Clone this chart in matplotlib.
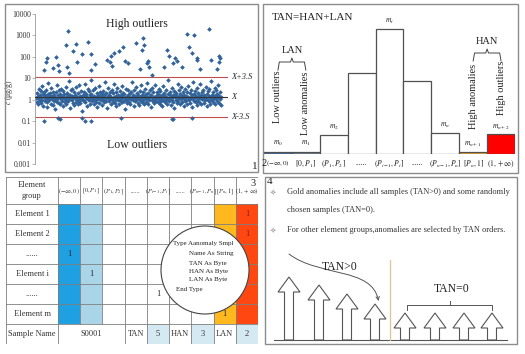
import matplotlib

matplotlib.use("Agg")
import matplotlib.pyplot as plt
import numpy as np
from matplotlib.patches import Rectangle, Circle, FancyArrow, FancyArrowPatch
from matplotlib.path import Path

plt.rcParams["font.family"] = ["Liberation Serif", "DejaVu Sans"]
plt.rcParams["mathtext.fontset"] = "stix"

W, H = 525, 354
INK = "#222222"
FRAME = "#8c8c8c"

# ---------------- panel 1: concentrations by sample ----------------
band = [
    1.2, 0.8, 2.1, 1.5, 0.6, 3.2, 1.1, 0.9, 1.7, 2.6, 0.7, 1.3, 4.5, 1.0, 0.5, 1.9, 1.4, 2.3, 0.85, 1.6,
    1.1, 2.8, 0.75, 1.35, 0.45, 1.8, 6.2, 1.25, 0.95, 2.0, 1.55, 0.65, 3.6, 1.05, 1.45, 0.55, 2.4, 1.15, 0.9, 1.7,
    0.35, 1.3, 2.2, 1.0, 0.8, 5.1, 1.6, 1.2, 0.7, 2.9, 1.4, 0.6, 1.85, 1.05, 3.3, 0.9, 1.5, 0.5, 2.5, 1.25,
    1.9, 0.75, 1.1, 4.0, 1.35, 0.65, 2.15, 1.0, 0.85, 1.6, 7.5, 1.2, 0.4, 1.75, 2.7, 1.05, 0.95, 1.45, 3.0, 0.7,
    1.3, 2.35, 0.55, 1.15, 1.65, 0.8, 3.8, 1.4, 1.0, 2.05, 0.6, 1.25, 0.9, 4.8, 1.55, 0.7, 1.1, 2.6, 1.35, 0.3,
    1.7, 1.0, 0.85, 2.2, 1.45, 5.6, 0.75, 1.2, 1.9, 0.5, 1.3, 3.1, 1.05, 0.95, 2.45, 1.6, 0.65, 1.15, 1.8, 8.5,
    0.9, 1.4, 2.75, 1.1, 0.6, 1.55, 1.0, 3.5, 0.8, 1.25, 2.0, 0.45, 1.35, 1.75, 1.05, 4.2, 0.7, 1.5, 2.3, 1.2,
    0.95, 1.85, 0.55, 1.3, 2.6, 1.0, 0.75, 1.65, 6.8, 1.15, 0.85, 2.1, 1.4, 0.4, 1.2, 3.4, 1.6, 0.9, 1.05, 2.4,
    1.5, 0.65, 1.25, 2.9, 1.1, 0.8, 1.95, 5.3, 1.35, 0.7, 1.0, 2.25, 1.45, 0.5, 3.7, 1.2, 0.95, 1.7, 1.05, 0.6,
    2.5, 1.3, 0.85, 1.6, 4.4, 1.15, 0.75, 2.0, 1.4, 0.9, 1.8, 0.35, 1.25, 3.2, 1.0, 1.55, 0.7, 2.7, 1.1, 1.45,
    0.8, 1.9, 1.2, 0.6, 2.3, 1.05, 7.0, 1.35, 0.95, 1.65, 0.5, 2.8, 1.15, 1.5, 0.85, 3.9, 1.0, 1.3, 2.1, 0.7,
    1.75, 1.1, 0.55, 2.55, 1.4, 0.9, 1.2, 4.7, 0.75, 1.6, 1.0, 2.2, 0.65, 1.45, 3.3, 1.25, 0.8, 1.85, 1.05, 6.0,
    1.3, 0.6, 2.0, 1.15, 0.95, 2.9, 1.5, 0.45, 1.7, 1.0, 3.6, 1.25, 0.85, 2.4, 1.4, 0.7, 5.0, 1.1, 1.55, 0.9,
    2.2, 1.35, 0.75, 1.8, 1.05, 3.1, 0.6, 1.45, 2.65, 1.2, 0.9, 1.65, 0.5, 4.3, 1.0, 1.3, 2.05, 0.8, 1.5, 1.15,
    0.95, 2.75, 1.25, 0.65, 1.9, 8.0, 1.1, 0.85, 1.6, 2.3, 0.55, 1.4, 1.0, 3.4, 1.2, 0.75, 1.75, 2.5, 0.4, 1.35,
    1.6, 1.0, 2.1, 0.7, 1.45, 5.5, 1.2, 0.9, 2.85, 1.3, 0.6, 1.85, 1.05, 3.8, 0.8, 1.5, 2.2, 1.15, 0.5, 1.7,
    1.25, 3.0, 0.85, 1.55, 1.0, 2.4, 0.65, 1.35, 4.6, 1.1, 0.95, 1.95, 0.7, 1.4, 2.7, 1.2, 0.45, 1.65, 6.5, 1.05,
    0.9, 1.8, 1.3, 2.6, 0.75, 1.5, 1.0, 3.5, 0.55, 1.25, 2.0, 1.45, 0.8, 5.2, 1.15, 1.7, 0.6, 2.35, 1.05, 1.4,
    2.9, 1.1, 0.7, 1.6, 1.35, 0.95, 4.1, 1.2, 0.5, 1.9, 2.5, 1.0, 0.85, 1.55, 3.3, 1.3, 0.65, 7.8, 1.15, 1.75,
    1.0, 2.2, 0.8, 1.45, 1.2, 3.7, 0.6, 1.6, 2.75, 1.05, 0.9, 1.85, 4.9, 1.3, 0.7, 1.5, 2.4, 1.1, 0.55, 1.35,
]
high_no = [18, 21, 25, 36, 43, 48, 49, 65, 67, 70, 72, 81, 87, 88, 99, 113, 119, 120, 127,
           153, 160, 163, 164, 168, 180, 189, 193, 199, 216, 225, 229, 232, 233, 240, 243,
           245, 251, 276, 283, 287, 297, 301, 305, 316, 327, 330, 337, 341, 348, 349, 355,
           375, 379, 391, 395, 396, 397]
high_val = [25, 60, 90, 30, 100, 40, 22, 350, 35, 1600, 18, 180, 400, 60, 140, 500, 140, 25, 45,
            75, 60, 110, 38, 150, 190, 300, 65, 50, 460, 28, 220, 800, 350, 50, 65,
            33, 14, 35, 220, 110, 50, 90, 65, 33, 1200, 300, 150, 1100, 90, 70, 28,
            1900, 75, 28, 110, 60, 90]
low_no = [18, 48, 51, 99, 106, 120, 183, 293, 296, 337]
low_val = [0.1, 0.14, 0.13, 0.14, 0.1, 0.1, 0.14, 0.13, 0.12, 0.14]
mean_c, upper_c, lower_c = 1.3, 11.5, 0.15
decades = [0.001, 0.01, 0.1, 1, 10, 100, 1000, 10000]
decade_labels = ["0.001", "0.01", "0.1", "1", "10", "100", "1000", "10000"]

# ---------------- panel 2: interval histogram ----------------
intervals = [r"$(-\infty,0)$", r"$[0,P_1]$", r"$(P_1,P_2]$", "......", r"$(P_{i-1},P_i]$",
             "......", r"$(P_{n-1},P_n]$", r"$[P_n,1]$", r"$(1,+\infty)$"]
counts = [2.5, 2.5, 19, 81, 125, 73, 21, 2.5, 20]
count_labels = [r"$m_0$", r"$m_1$", r"$m_2$", "", r"$m_i$", "", r"$m_n$", r"$m_{n+1}$", r"$m_{n+2}$"]
bar_colors = ["#3f6e9c", "#6d8296", "white", "white", "white", "white", "white", "#eaa928", "#ff0000"]

# ---------------- panel 3: record table ----------------
head_labels = [r"$(-\infty,0)$", r"$[0,P_1]$", r"$(P_1,P_2]$", "......", r"$(P_{i-1},P_i]$",
               "......", r"$(P_{n-1},P_n]$", r"$[P_n,1]$", r"$(1,+\infty)$"]
row_labels = ["Element 1", "Element 2", "......", "Element i", "......", "Element m"]
col_fill = {0: "#1ea0e2", 1: "#aad5e8", 7: "#ffb81e", 8: "#ff4712"}
flag_cells = [(0, 8), (1, 8), (2, 0), (3, 1), (4, 4), (5, 7)]
summary = ["TAN", "5", "HAN", "3", "LAN", "2"]
record_lines = ["Type Aanomaly Smpl", "Name As String", "TAN As Byte",
                "HAN As Byte", "LAN As Byte", "End Type"]

# ---------------- panel 4: anomaly selection ----------------
tan_pos_heights = [63, 55, 46, 36]
tan_zero_heights = [27, 27, 27, 27]
notes = ["Gold anomalies include all samples (TAN>0) and some randomly",
         "chosen samples (TAN=0).",
         "For other element groups,anomalies are selected by TAN orders."]

fig = plt.figure(figsize=(W / 100, H / 100), dpi=100)


def px_axes(x0, y0, x1, y1):
    return fig.add_axes([x0 / W, 1 - y1 / H, (x1 - x0) / W, (y1 - y0) / H])


def frame(x0, y0, x1, y1):
    fig.add_artist(Rectangle((x0 / W, 1 - y1 / H), (x1 - x0) / W, (y1 - y0) / H,
                             transform=fig.transFigure, fill=False, ec=FRAME, lw=1.0))


def fig_text(x, y, s, **kw):
    fig.text(x / W, 1 - y / H, s, **kw)


# ---- panel 1
frame(5, 4, 258, 172)
ax1 = px_axes(35, 14, 228, 164)
ax1.set_yscale("log")
ax1.set_ylim(0.001, 10000)
ax1.set_xlim(-2, 415)
dot = dict(marker="D", ls="none", ms=2.4, mew=0, color="#31639a", zorder=2)
ax1.plot(np.arange(1, len(band) + 1), band, **dot)
ax1.plot(high_no, high_val, **dot)
ax1.plot(low_no, low_val, **dot)
ax1.axhline(upper_c, color="#c0504d", lw=0.8, zorder=1)
ax1.axhline(lower_c, color="#c0504d", lw=0.8, zorder=1)
ax1.axhline(mean_c, color="#333333", lw=0.8, zorder=3)
ytr = ax1.get_yaxis_transform()
for val, lab in [(upper_c, "X+3.S"), (mean_c, "X"), (lower_c, "X-3.S")]:
    ax1.text(1.015, val, lab, transform=ytr, ha="left", va="center",
             fontsize=6, style="italic", color=INK)
ax1.set_yticks(decades)
ax1.set_yticklabels(decade_labels)
ax1.yaxis.set_minor_locator(matplotlib.ticker.NullLocator())
ax1.set_xticks([])
for side in ["top", "right", "bottom"]:
    ax1.spines[side].set_visible(False)
ax1.spines["left"].set_color("#999999")
ax1.spines["left"].set_linewidth(0.6)
ax1.tick_params(axis="y", length=2, width=0.5, color="#999999", labelsize=5.5,
                labelcolor="#333333", pad=1)
ax1.set_ylabel(r"$c$ (μg/g)", fontsize=5.5, color="#333333")
ax1.yaxis.set_label_coords((15 - 35) / 193, (164 - 92) / 150)
ax1.text(0.53, 0.933, "High outliers", transform=ax1.transAxes, ha="center",
         va="center", fontsize=8.5, color=INK)
ax1.text(0.53, 0.127, "Low outliers", transform=ax1.transAxes, ha="center",
         va="center", fontsize=8.5, color=INK)
fig_text(255, 167, "1", ha="center", va="center", fontsize=8, color=INK)

# ---- panel 2
frame(263, 4, 518, 173)
ax2 = px_axes(264, 4, 515, 154)
ax2.set_xlim(-0.5, len(counts) - 0.5)
ax2.set_ylim(0, 150)
xs = np.arange(len(counts))
ax2.bar(xs, counts, width=1.0, color=bar_colors, edgecolor="#505050", lw=0.9)
for x, c, lab in zip(xs, counts, count_labels):
    if lab:
        ax2.annotate(lab, (x, c), xytext=(0, 2.5), textcoords="offset points",
                     ha="center", va="bottom", fontsize=5.5, color=INK)
ax2.set_xticks(xs)
ax2.set_xticklabels(intervals)
ax2.tick_params(axis="x", length=0, pad=3.5, labelsize=5.5, labelcolor=INK)
ax2.get_xticklabels()[0].set_fontsize(5)
ax2.set_yticks([])
for s in ax2.spines.values():
    s.set_visible(False)


def brace(ax, x0, x1, y, depth, label):
    xm = (x0 + x1) / 2
    ax.plot([x0, x0 + 0.05, xm - 0.05, xm, xm + 0.05, x1 - 0.05, x1],
            [y - depth, y, y, y + depth * 0.5, y, y, y - depth],
            color="#444444", lw=0.7)
    ax.text(xm, y + depth * 0.9, label, ha="center", va="bottom", fontsize=7.5, color=INK)


brace(ax2, 0, 1, 92, 8, "LAN")
brace(ax2, 7, 8, 101, 8, "HAN")
ax2.text(0, 57, "Low outliers", rotation=90, ha="center", va="center", fontsize=7.5, color=INK)
ax2.text(1, 51, "Low anomalies", rotation=90, ha="center", va="center", fontsize=7.5, color=INK)
ax2.text(7, 58, "High anomalies", rotation=90, ha="center", va="center", fontsize=7.5, color=INK)
ax2.text(8, 66, "High outliers", rotation=90, ha="center", va="center", fontsize=7.5, color=INK)
fig_text(272, 17, "TAN=HAN+LAN", ha="left", va="center", fontsize=8, color=INK)
fig_text(264.5, 164, "2", ha="center", va="center", fontsize=7.5, color=INK)

# ---- panel 3
ax3 = px_axes(6, 177, 258, 344)
ax3.set_xlim(0, 252)
ax3.set_ylim(167, 0)
ax3.axis("off")
col_edges = np.linspace(52, 252, len(head_labels) + 1)
row_edges = [0, 27] + [27 + 20 * (k + 1) for k in range(len(row_labels))] + [167]
for j, color in col_fill.items():
    ax3.add_patch(Rectangle((col_edges[j], row_edges[1]), col_edges[j + 1] - col_edges[j],
                            row_edges[-2] - row_edges[1], color=color, lw=0, zorder=0))
for k in range(1, len(summary), 2):
    j = k + 3
    ax3.add_patch(Rectangle((col_edges[j], row_edges[-2]), col_edges[j + 1] - col_edges[j],
                            row_edges[-1] - row_edges[-2], color="#d5e9f2", lw=0, zorder=0))
grid_kw = dict(color="#7f7f7f", lw=0.6, zorder=1)
for y in row_edges:
    ax3.plot([0, 252], [y, y], **grid_kw)
for j, x in enumerate(col_edges):
    bottom = row_edges[-2] if j in (1, 2) else row_edges[-1]
    ax3.plot([x, x], [0, bottom], **grid_kw)
ax3.plot([0, 0], [0, 167], **grid_kw)
ax3.text(26, 13.5, "Element\ngroup", ha="center", va="center", fontsize=6,
         color="#333333", linespacing=1.4)
for j, lab in enumerate(head_labels):
    ax3.text((col_edges[j] + col_edges[j + 1]) / 2, 14.5, lab, ha="center", va="center",
             fontsize=4.6, color="#333333")
for i, lab in enumerate(row_labels):
    ax3.text(26, (row_edges[i + 1] + row_edges[i + 2]) / 2, lab, ha="center", va="center",
             fontsize=6, color="#333333")
for i, j in flag_cells:
    tc = "#8b1a00" if j == 8 else "#222222"
    ax3.text((col_edges[j] + col_edges[j + 1]) / 2, (row_edges[i + 1] + row_edges[i + 2]) / 2,
             "1", ha="center", va="center", fontsize=6, color=tc, zorder=3)
yb = (row_edges[-2] + row_edges[-1]) / 2
ax3.text(26, yb, "Sample Name", ha="center", va="center", fontsize=6, color="#333333")
ax3.text((col_edges[0] + col_edges[3]) / 2, yb, "S0001", ha="center", va="center",
         fontsize=6, color="#333333")
for k, lab in enumerate(summary):
    j = k + 3
    ax3.text((col_edges[j] + col_edges[j + 1]) / 2, yb, lab, ha="center", va="center",
             fontsize=6, color="#333333")
ax3.text(250, 2, "3", ha="right", va="top", fontsize=7.5, color=INK)
ax3.add_patch(Circle((199, 93), 44, facecolor="white", edgecolor="#444444", lw=0.8, zorder=4))
line_pos = [(167, 67), (183, 77), (183, 86), (183, 95), (183, 103), (170, 112)]
for (x, y), s in zip(line_pos, record_lines):
    ax3.text(x, y, s, ha="left", va="center", fontsize=5.0, color="#222222", zorder=5)

# ---- panel 4
frame(265, 177, 517, 344)
ax4 = px_axes(265, 177, 517, 344)
ax4.set_xlim(0, 252)
ax4.set_ylim(167, 0)
ax4.axis("off")
for y, s, bullet in [(15, notes[0], True), (33, notes[1], False), (53, notes[2], True)]:
    if bullet:
        ax4.text(8, y, "✧", ha="center", va="center", fontsize=5.5, color="#999999",
                 family=["DejaVu Sans"])
    ax4.text(22, y, s, ha="left", va="center", fontsize=6, color="#333333")
ax4.text(2, 5, "4", ha="left", va="center", fontsize=8, color=INK)
base_y = 163
arrow_kw = dict(width=9, head_width=22, head_length=15, length_includes_head=True,
                facecolor="white", edgecolor="#555555", lw=0.8)
for x, h in zip([24, 54, 82, 110], tan_pos_heights):
    ax4.add_patch(FancyArrow(x, base_y, 0, -h, **arrow_kw))
for x, h in zip([140, 170, 199, 227], tan_zero_heights):
    ax4.add_patch(FancyArrow(x, base_y, 0, -h, **arrow_kw))
ax4.plot([9, 242], [base_y, base_y], color="#555555", lw=0.8)
ax4.plot([125, 125], [83, base_y], color="#e2c38f", lw=0.9)
curve = Path([(24, 77), (54, 100), (107, 90), (113.5, 124)],
             [Path.MOVETO, Path.CURVE4, Path.CURVE4, Path.CURVE4])
ax4.add_patch(FancyArrowPatch(path=curve, arrowstyle="->", mutation_scale=6,
                              color="#555555", lw=0.7))
ax4.text(75, 90, "TAN>0", ha="center", va="center", fontsize=8.5, color=INK)
ax4.text(187, 112, "TAN=0", ha="center", va="center", fontsize=8.5, color=INK)
ax4.plot([142, 142, 227, 227], [133, 128, 128, 133], color="#555555", lw=0.7)
ax4.plot([184.5, 184.5], [128, 124], color="#555555", lw=0.7)

fig.savefig("out.png", dpi=100)
